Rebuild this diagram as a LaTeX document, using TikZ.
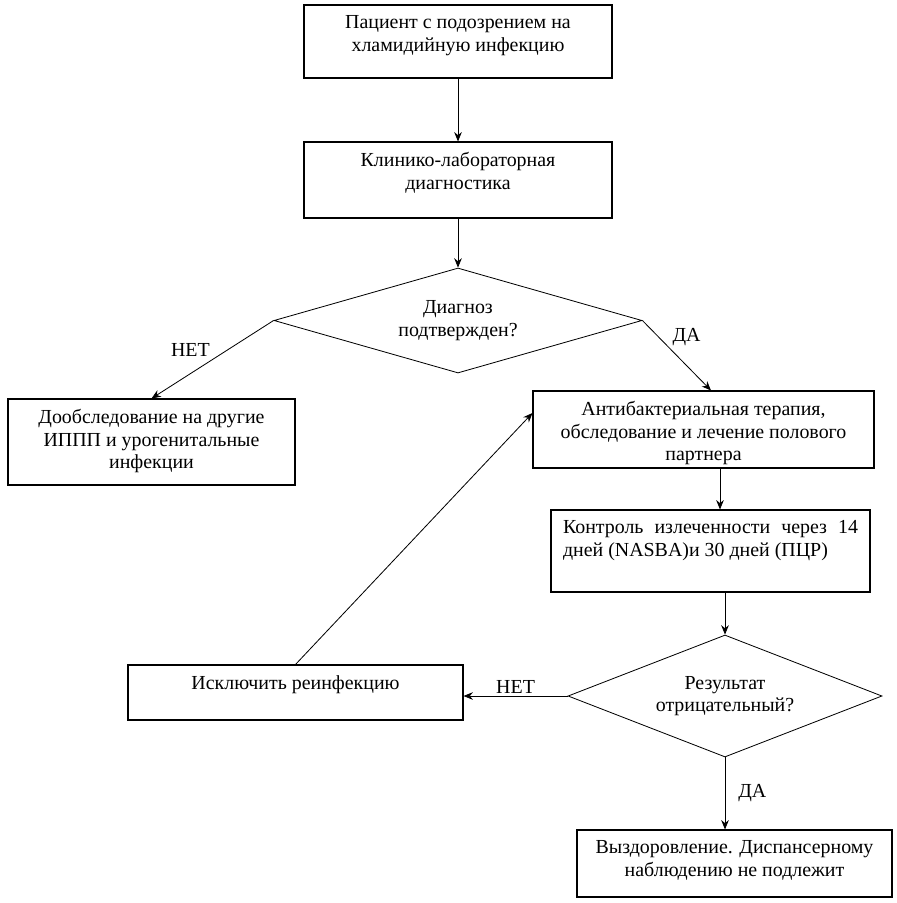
\documentclass[tikz,border=0pt]{standalone}
\usepackage{fontspec}
\setmainfont{Liberation Serif}
\usetikzlibrary{shapes.geometric,arrows.meta}

\tikzstyle{process} = [rectangle, draw=black, line width=0.9pt, inner sep=0pt, text centered, fill=white]
\tikzstyle{decision} = [diamond, aspect=3, draw=black, line width=0.7pt, inner sep=0pt, align=center, fill=white]
\tikzstyle{arrow} = [line width=0.7pt,->,>={Stealth[length=8pt,width=6.5pt]}]
\tikzstyle{answer} = [inner sep=2pt]

\newcommand{\boxtext}[3]{\parbox[c][#1][t]{#2}{\centering\vspace*{0.32cm}#3}}

\begin{document}
\begin{tikzpicture}[font=\fontsize{17}{19.2}\selectfont]
	\useasboundingbox (0,0) rectangle (26.91,-27.09);
	% Place nodes
	\node [process, minimum width=9.24cm] (Patient) at (13.74,-1.245) {\boxtext{2.19cm}{8.5cm}{Пациент с подозрением на\\хламидийную инфекцию}};
	\node [process, minimum width=9.24cm, below of=Patient, node distance=4.155cm] (Clinic) {\boxtext{2.28cm}{8.5cm}{Клинико-лабораторная\\диагностика}};
	\node [decision, minimum width=11.04cm, minimum height=3.15cm, below of=Clinic, node distance=4.215cm] (Diagnosis) {Диагноз\\подтвержден?};
	\node [process, minimum width=8.61cm, below of=Diagnosis, node distance=3.645cm, xshift=-9.195cm] (Extra) {\boxtext{2.58cm}{8.2cm}{Дообследование на другие\\ИППП и урогенитальные\\инфекции}};
	\node [process, minimum width=10.23cm, below of=Diagnosis, node distance=3.27cm, xshift=7.365cm] (Therapy) {\boxtext{2.31cm}{9.6cm}{Антибактериальная терапия,\\обследование и лечение полового\\партнера}};
	\node [process, minimum width=9.57cm, below of=Therapy, node distance=3.645cm, xshift=0.21cm] (Control) {\parbox[c][2.46cm][t]{8.85cm}{\vspace*{0.32cm}Контроль излеченности через 14\linebreak дней (NASBA)и 30 дней (ПЦР)}};
	\node [decision, minimum width=9.42cm, minimum height=3.66cm, below of=Control, node distance=4.35cm, xshift=0.435cm] (Result) {Результат\\отрицательный?};
	\node [process, minimum width=10.05cm, left of=Result, node distance=12.885cm, yshift=0.105cm] (Exclude) {\boxtext{1.65cm}{9.5cm}{Исключить реинфекцию}};
	\node [process, minimum width=9.45cm, below of=Result, node distance=5.025cm, xshift=0.285cm] (Final) {\boxtext{2.01cm}{8.9cm}{Выздоровление. Диспансерному\\наблюдению не подлежит}};
	% Draw edges
	\draw [arrow] (Patient.south) -- (Clinic.south |- Clinic.north);
	\draw [arrow] (Clinic.south) -- (Diagnosis.north);
	\draw [arrow] (Diagnosis.west) -- node [answer, pos=0.5, above left] {НЕТ} (Extra.north);
	\draw [arrow] (Diagnosis.east) -- node [answer, pos=0.4, above right] {ДА} ([xshift=0.225cm]Therapy.north);
	\draw [arrow] ([xshift=0.495cm]Therapy.south) -- ([xshift=0.495cm]Therapy.south |- Control.north);
	\draw [arrow] (Control.south -| Result.north) -- (Result.north);
	\draw [arrow] (Result.west) -- node [answer, above] {НЕТ} (Result.west -| Exclude.east);
	\draw [arrow] (Result.south) -- node [answer, right=9pt] {ДА} (Result.south |- Final.north);
	\draw [arrow] (Exclude.north) -- ([yshift=0.495cm]Therapy.west);
\end{tikzpicture}
\end{document}
